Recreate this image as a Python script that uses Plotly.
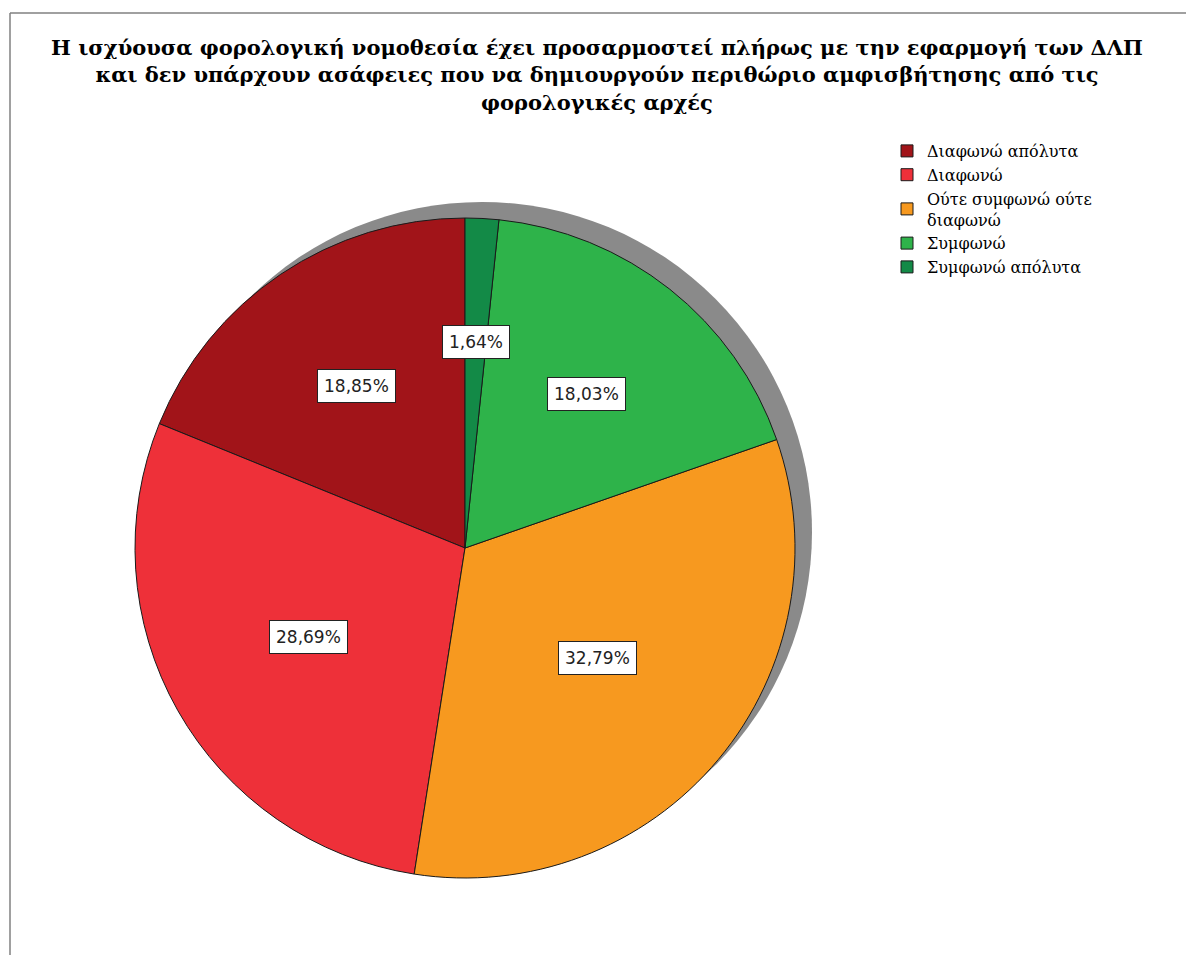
import math
import plotly.graph_objects as go

# ---- data ----
categories = ["Διαφωνώ απόλυτα", "Διαφωνώ", "Ούτε συμφωνώ ούτε<br>διαφωνώ", "Συμφωνώ", "Συμφωνώ απόλυτα"]
percentages = [18.85, 28.69, 32.79, 18.03, 1.64]
value_labels = ["18,85%", "28,69%", "32,79%", "18,03%", "1,64%"]
colors = ["#A11419", "#EE3039", "#F7991F", "#2EB34A", "#138A47"]

title_text = ("Η ισχύουσα φορολογική νομοθεσία έχει προσαρμοστεί πλήρως με την εφαρμογή των ΔΛΠ<br>"
              "και δεν υπάρχουν ασάφειες που να δημιουργούν περιθώριο αμφισβήτησης από τις<br>"
              "φορολογικές αρχές")

# ---- layout constants (page pixels; the html body has an 8px margin) ----
PAGE_OFF = 8
FW, FH = 1194 - 2 * PAGE_OFF, 963 - 2 * PAGE_OFF
CX, CY, R = 465, 548, 330          # pie centre / radius in page pixels
SHADOW_DX, SHADOW_DY = 17, -16


def px2x(px):
    return (px - PAGE_OFF) / FW


def py2y(py):
    return 1 - (py - PAGE_OFF) / FH


def dom(cx, cy, r):
    return dict(x=[px2x(cx - r), px2x(cx + r)], y=[py2y(cy + r), py2y(cy - r)])


total = sum(percentages)

fig = go.Figure()

# shadow
fig.add_trace(go.Pie(
    values=[1], labels=["shadow"], marker=dict(colors=["#8A8A8A"], line=dict(width=0)),
    domain=dom(CX + SHADOW_DX, CY + SHADOW_DY, R), textinfo="none", hoverinfo="skip",
    showlegend=False, sort=False))

# first slice should start at 12 o'clock going counter-clockwise
fig.add_trace(go.Pie(
    values=percentages, labels=categories, sort=False, direction="counterclockwise",
    rotation=-percentages[0] / total * 360,
    marker=dict(colors=colors, line=dict(color="#1a1a1a", width=1)),
    domain=dom(CX, CY, R), textinfo="none", hoverinfo="label+percent"))

# value label boxes placed near the slice centroids
cum = 0.0
for v, lab in zip(percentages, value_labels):
    a = v / total * 2 * math.pi
    mid = (cum + v / 2) / total * 2 * math.pi
    cum += v
    dist = 0.94 * R * 4 * math.sin(a / 2) / (3 * a)
    px = CX - dist * math.sin(mid)
    py = CY - dist * math.cos(mid)
    fig.add_annotation(x=px2x(px), y=py2y(py), xref="paper", yref="paper", text=lab,
                       xanchor="center", yanchor="middle",
                       showarrow=False, bgcolor="white", bordercolor="#222222", borderwidth=1,
                       borderpad=6, font=dict(family="DejaVu Sans", size=17, color="#222222"))

# frame (top and left edges visible)
fig.add_shape(type="line", xref="paper", yref="paper", x0=px2x(10), x1=1.02, y0=py2y(13), y1=py2y(13),
              line=dict(color="#808080", width=1.5), layer="above")
fig.add_shape(type="line", xref="paper", yref="paper", x0=px2x(10), x1=px2x(10), y0=-0.02, y1=py2y(13),
              line=dict(color="#808080", width=1.5), layer="above")

fig.update_layout(
    width=FW, height=FH, margin=dict(l=0, r=0, t=0, b=0),
    paper_bgcolor="white", plot_bgcolor="white",
    title=dict(text=title_text, x=px2x(597), xanchor="center", y=py2y(55), yanchor="top",
               font=dict(family="DejaVu Serif", size=21, color="black", weight="bold")),
    legend=dict(x=px2x(887), y=py2y(134), xanchor="left", yanchor="top",
                font=dict(family="DejaVu Serif", size=16, color="black"),
                itemwidth=30, tracegroupgap=0, bgcolor="rgba(0,0,0,0)"),
)

fig.write_html("out.html")
